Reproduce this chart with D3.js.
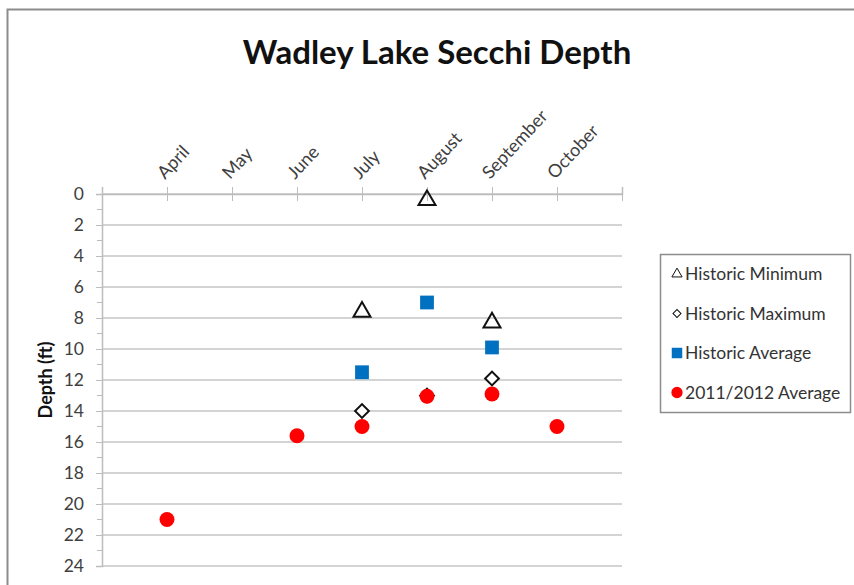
<!DOCTYPE html>
<html>
<head>
<meta charset="utf-8">
<script src="https://cdn.jsdelivr.net/npm/d3@7"></script>
<style>
  body { margin: 0; background: #fff; }
  svg { display: block; font-family: Lato, "Open Sans", sans-serif; }
</style>
</head>
<body>
<svg></svg>
<script>
let months = ['April', 'May', 'June', 'July', 'August', 'September', 'October']
let yTicks = [0, 2, 4, 6, 8, 10, 12, 14, 16, 18, 20, 22, 24]

// depth values per month, null = no reading
let histMin = [null, null, null, 7.6, 0.4, 8.3, null]
let histMax = [null, null, null, 14, 13, 11.9, null]
let histAvg = [null, null, null, 11.5, 7, 9.9, null]
let avg2011 = [21, null, 15.6, 15, 13.05, 12.9, 15]

let width = 854
let height = 585

let svg = d3.select('svg')
    .attr('width', width)
    .attr('height', height)

let xScale = d3.scaleLinear().domain([0, 8]).range([102, 622])
let yScale = d3.scaleLinear().domain([0, 24]).range([194, 566])

// outer chart border
svg.append('rect')
    .attr('x', 7.5).attr('y', 9.5)
    .attr('width', 900).attr('height', 700)
    .attr('fill', 'none')
    .attr('stroke', '#8c8c8c')
    .attr('stroke-width', 2)

svg.append('text')
    .attr('x', 437)
    .attr('y', 64)
    .attr('text-anchor', 'middle')
    .attr('font-size', 33)
    .attr('font-weight', 'bold')
    .attr('fill', '#111')
    .text('Wadley Lake Secchi Depth')

// grid
svg.append('g')
    .selectAll('line')
    .data(yTicks)
    .join('line')
    .attr('x1', xScale(0)).attr('x2', xScale(8))
    .attr('y1', d => yScale(d)).attr('y2', d => yScale(d))
    .attr('stroke', '#d4d4d4')
    .attr('stroke-width', 2)

// y axis
let yAxis = d3.axisLeft(yScale)
    .tickValues(yTicks)
    .tickSize(6)
    .tickPadding(12)
let yG = svg.append('g')
    .attr('transform', 'translate(' + xScale(0) + ',0)')
    .call(yAxis)
yG.select('.domain').attr('stroke', '#bdbdbd').attr('stroke-width', 1.5)
yG.selectAll('.tick line').attr('stroke', '#bdbdbd')
yG.selectAll('.tick text')
    .attr('font-size', 17.5)
    .attr('font-family', 'Lato, sans-serif')
    .attr('fill', '#404040')

// minor ticks on y
svg.append('g')
    .selectAll('line')
    .data(d3.range(1, 24, 2))
    .join('line')
    .attr('x1', xScale(0) - 5).attr('x2', xScale(0))
    .attr('y1', d => yScale(d)).attr('y2', d => yScale(d))
    .attr('stroke', '#bdbdbd')

// x axis on top
let xAxis = d3.axisTop(xScale)
    .tickValues(d3.range(0, 9))
    .tickSize(7)
    .tickFormat('')
let xG = svg.append('g')
    .attr('transform', 'translate(0,' + yScale(0) + ')')
    .call(xAxis)
xG.select('.domain').attr('stroke', '#bdbdbd').attr('stroke-width', 1.5)
xG.selectAll('.tick line').attr('stroke', '#bdbdbd').attr('y2', 7).attr('y1', -7)

svg.append('g')
    .selectAll('text')
    .data(months)
    .join('text')
    .attr('transform', (d, i) => 'translate(' + (xScale(i + 1) - 2) + ',180) rotate(-47)')
    .attr('font-size', 18)
    .attr('fill', '#404040')
    .text(d => d)

svg.append('text')
    .attr('transform', 'translate(52,' + ((yScale(0) + yScale(24)) / 2) + ') rotate(-90)')
    .attr('text-anchor', 'middle')
    .attr('font-size', 18)
    .attr('font-weight', 'bold')
    .attr('fill', '#111')
    .text('Depth (ft)')

let toPoints = arr => arr.map((v, i) => ({ i: i, v: v })).filter(d => d.v !== null)

let drawSeries = (arr, symbol, size, fill, stroke, rot) => {
    svg.append('g')
        .selectAll('path')
        .data(toPoints(arr))
        .join('path')
        .attr('d', d3.symbol(symbol, size))
        .attr('transform', d => 'translate(' + xScale(d.i + 1) + ',' + yScale(d.v) + ') rotate(' + rot + ')')
        .attr('fill', fill)
        .attr('stroke', stroke)
        .attr('stroke-width', 2)
}

drawSeries(histMin, d3.symbolTriangle, 125, 'none', '#111', 0)
drawSeries(histMax, d3.symbolSquare, 95, '#fff', '#111', 45)
drawSeries(histAvg, d3.symbolSquare, 190, '#0070c0', 'none', 0)
drawSeries(avg2011, d3.symbolCircle, 175, '#ff0000', 'none', 0)

// legend
let legendItems = [
    { name: 'Historic Minimum', symbol: d3.symbolTriangle, size: 45, fill: 'none', stroke: '#111', rot: 0 },
    { name: 'Historic Maximum', symbol: d3.symbolSquare, size: 32, fill: '#fff', stroke: '#111', rot: 45 },
    { name: 'Historic Average', symbol: d3.symbolSquare, size: 110, fill: '#0070c0', stroke: 'none', rot: 0 },
    { name: '2011/2012 Average', symbol: d3.symbolCircle, size: 100, fill: '#ff0000', stroke: 'none', rot: 0 }
]

let legend = svg.append('g')
legend.append('rect')
    .attr('x', 660.5).attr('y', 254.5)
    .attr('width', 190).attr('height', 158)
    .attr('fill', '#fff')
    .attr('stroke', '#8c8c8c')
    .attr('stroke-width', 1.5)

let rows = legend.selectAll('g')
    .data(legendItems)
    .join('g')
    .attr('transform', (d, i) => 'translate(677,' + (274 + i * 39.5) + ')')
rows.append('path')
    .attr('d', d => d3.symbol(d.symbol, d.size)())
    .attr('transform', d => 'rotate(' + d.rot + ')')
    .attr('fill', d => d.fill)
    .attr('stroke', d => d.stroke)
    .attr('stroke-width', 1)
rows.append('text')
    .attr('x', 8)
    .attr('y', 6)
    .attr('font-size', 17.5)
    .attr('fill', '#333')
    .text(d => d.name)
</script>
</body>
</html>
